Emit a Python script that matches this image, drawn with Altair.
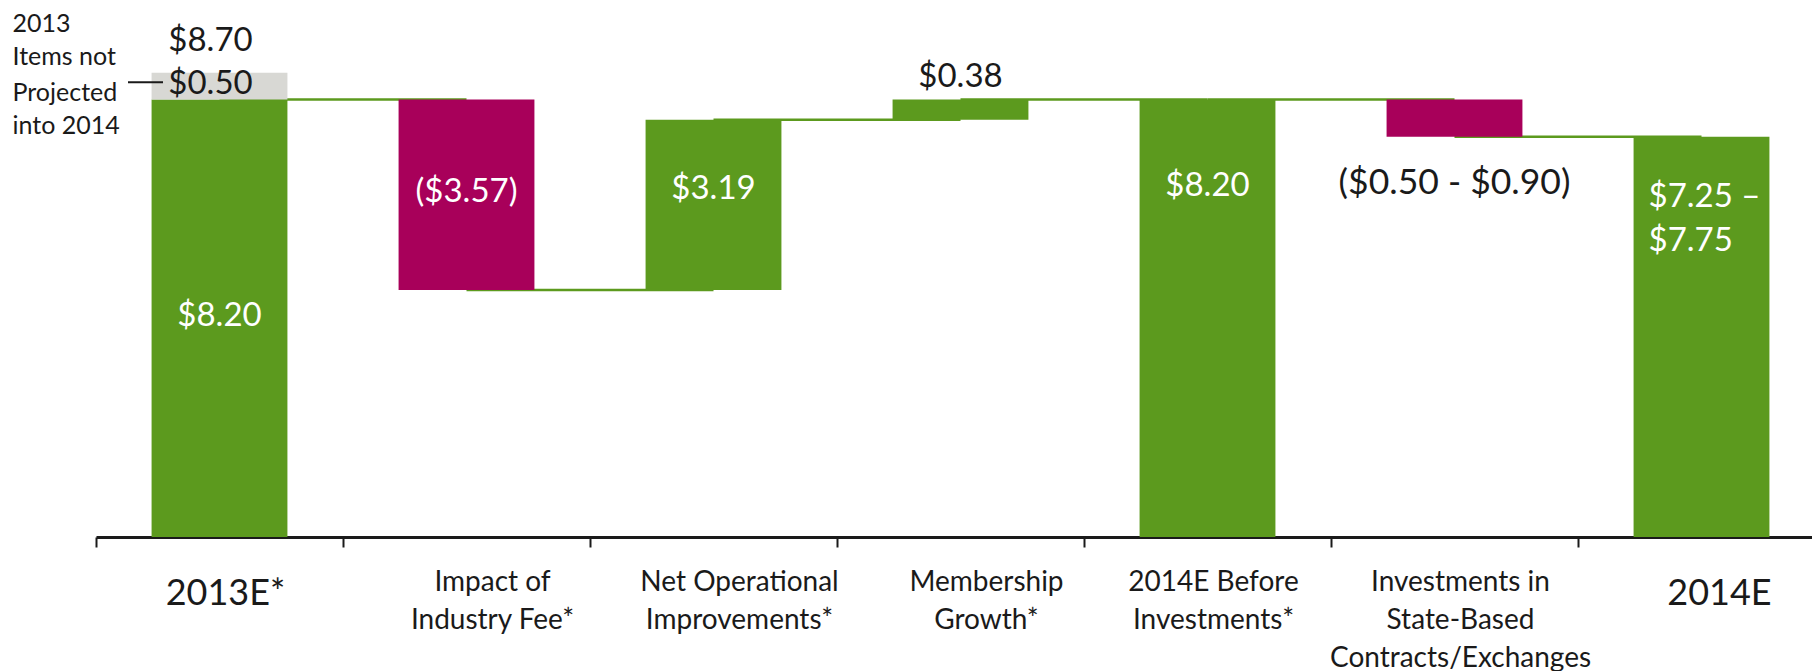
import altair as alt
import pandas as pd

# ---- data ----
categories = ["2013E*", "Impact of|Industry Fee*", "Net Operational|Improvements*",
              "Membership|Growth*", "2014E Before|Investments*",
              "Investments in|State-Based|Contracts/Exchanges", "2014E"]
bar_start = [0, 8.20, 4.63, 7.82, 0, 8.20, 0]
bar_end = [8.20, 4.63, 7.82, 8.20, 8.20, 7.50, 7.50]
bar_kind = ["up", "down", "up", "up", "up", "down", "up"]

excluded_cat = ["2013E*"]
excluded_start = [8.20]
excluded_end = [8.70]

conn_from = categories[:-1]
conn_to = categories[1:]
conn_level = [8.20, 4.63, 7.82, 8.20, 8.20, 7.50]

top_text = ["$8.70", "$0.50"]
top_y = [9.29, 8.48]

label_text = ["$8.20", "($3.57)", "$3.19", "$0.38", "$8.20", "($0.50 - $0.90)"]
label_cat = [categories[i] for i in [0, 1, 2, 3, 4, 5]]
label_y = [4.14, 6.46, 6.52, 8.61, 6.57, 6.63]
label_tone = ["light", "light", "light", "dark", "light", "dark"]
label_size = [33, 33, 33, 33, 33, 35.5]

range_text = ["$7.25 –", "$7.75"]
range_cat = ["2014E", "2014E"]
range_y = [6.37, 5.54]

note_text = ["2013", "Items not", "Projected", "into 2014"]
note_y = [9.62, 9.00, 8.32, 7.71]
leader_y = [8.52]

GREEN = "#5C9A1E"
MAGENTA = "#A8005A"
GRAY = "#D8D8D4"
DARK = "#1a1a1a"
FONT = "Lato"

bars = pd.DataFrame({"cat": categories, "start": bar_start, "end": bar_end, "kind": bar_kind})
bars = pd.concat([bars, pd.DataFrame({"cat": excluded_cat, "start": excluded_start,
                                      "end": excluded_end, "kind": ["excluded"]})])
conns = pd.DataFrame({"cat": conn_from, "cat2": conn_to, "level": conn_level})
tops = pd.DataFrame({"cat": ["2013E*"] * 2, "y": top_y, "text": top_text})
labels = pd.DataFrame({"cat": label_cat, "y": label_y, "text": label_text,
                       "tone": label_tone, "fs": label_size})
ranges = pd.DataFrame({"cat": range_cat, "y": range_y, "text": range_text})
notes = pd.DataFrame({"cat": ["2013E*"] * 4, "y": note_y, "text": note_text})
leader = pd.DataFrame({"y": leader_y})

xscale = alt.Scale(domain=categories, range=[0, 1729], paddingInner=0.45, paddingOuter=0.225)
yscale = alt.Scale(domain=[0, 9.5])

big = "datum.value == '2013E*' || datum.value == '2014E'"
shifted = ("datum.value == 'Impact of|Industry Fee*' || datum.value == 'Net Operational|Improvements*'"
           " || datum.value == 'Membership|Growth*'")

xaxis = alt.Axis(
    title=None, labelAngle=0, labelExpr="split(datum.label, '|')",
    tickOffset=-123.5, labelAlign="center",
    labelOffset={"condition": [{"test": shifted, "value": 149},
                               {"test": "datum.value == '2014E'", "value": 141}],
                 "value": 129},
    domainColor=DARK, domainWidth=3, tickColor=DARK, tickWidth=2,
    tickSize=10, labelLineHeight=38, labelColor=DARK, labelFont=FONT, labelLimit=0,
    labelPadding={"condition": {"test": big, "value": 29}, "value": 21},
    labelFontSize={"condition": {"test": big, "value": 36}, "value": 28},
    labelBaseline="top", grid=False,
)

X = alt.X("cat:N", scale=xscale, axis=xaxis, sort=categories)
Xn = alt.X("cat:N", scale=xscale, sort=categories)
def Yq(f):
    return alt.Y(f, scale=yscale, axis=None)

conn_layer = alt.Chart(conns).mark_rule(color=GREEN, strokeWidth=2.5).encode(
    x=Xn, x2="cat2:N", y=Yq("level:Q")
)

bar_layer = alt.Chart(bars).mark_bar().encode(
    x=X, y=Yq("start:Q"), y2="end:Q",
    color=alt.Color("kind:N", scale=alt.Scale(domain=["up", "down", "excluded"],
                                              range=[GREEN, MAGENTA, GRAY]), legend=None),
)

top_layer = alt.Chart(tops).mark_text(font=FONT, fontSize=33, baseline="middle", dx=-9,
                                       color=DARK).encode(
    x=Xn, y=Yq("y:Q"), text="text:N"
)

label_layer = alt.Chart(labels).mark_text(font=FONT, baseline="middle").encode(
    x=Xn, y=Yq("y:Q"), text="text:N",
    size=alt.Size("fs:Q", scale=None),
    color=alt.Color("tone:N", scale=alt.Scale(domain=["dark", "light"], range=[DARK, "#ffffff"]),
                    legend=None),
)

range_layer = alt.Chart(ranges).mark_text(font=FONT, fontSize=33, baseline="middle",
                                           align="left", dx=-53, color="#ffffff").encode(
    x=Xn, y=Yq("y:Q"), text="text:N"
)

note_layer = alt.Chart(notes).mark_text(font=FONT, fontSize=25, baseline="middle",
                                         align="left", dx=-207, color=DARK).encode(
    x=Xn, y=Yq("y:Q"), text="text:N"
)

leader_layer = alt.Chart(leader).mark_rule(color=DARK, strokeWidth=2).encode(
    x=alt.value(32), x2=alt.value(67), y=Yq("y:Q")
)

chart = alt.layer(conn_layer, bar_layer, top_layer, label_layer, range_layer, note_layer,
                  leader_layer).properties(
    width=1716, height=507,
    autosize=alt.AutoSizeParams(type="none"),
    padding={"left": 88, "top": 22, "right": 0, "bottom": 134},
).resolve_scale(color="independent").configure(font=FONT).configure_view(stroke=None)

chart.save("out.html", embed_options={"renderer": "svg", "actions": False})
